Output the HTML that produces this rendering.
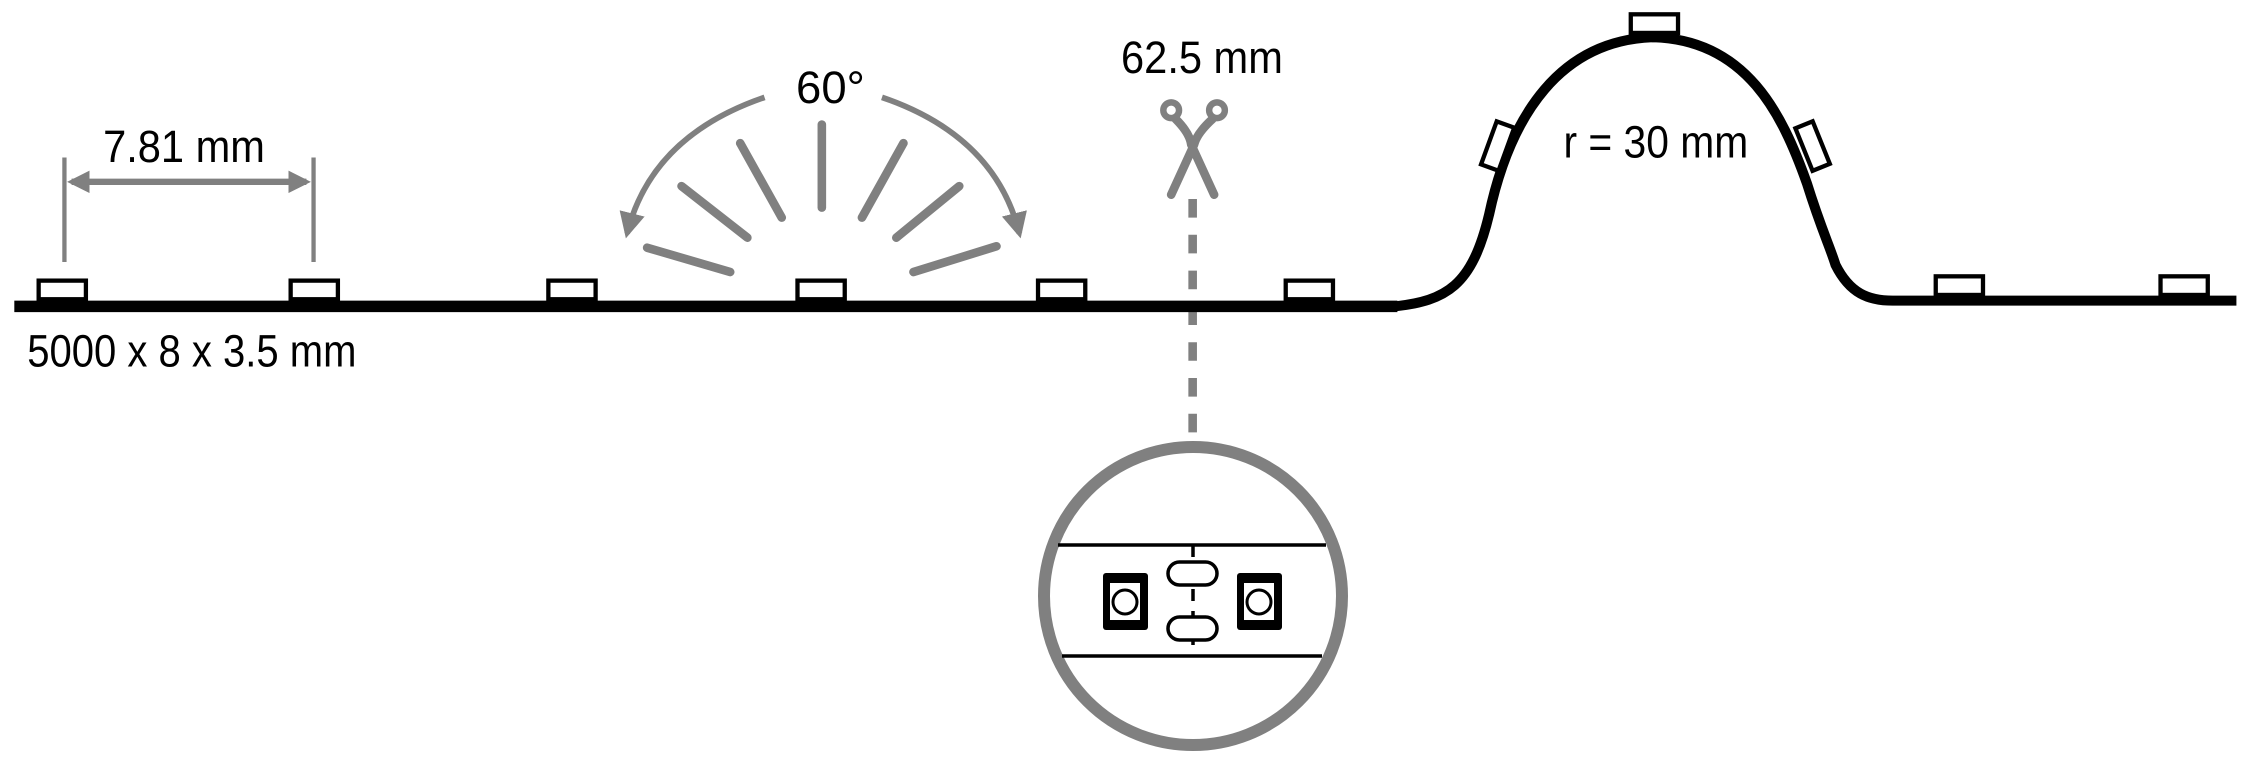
<!DOCTYPE html>
<html><head><meta charset="utf-8"><style>html,body{margin:0;padding:0;background:#fff}svg{display:block}</style></head>
<body>
<svg width="2245" height="765" viewBox="0 0 1568 534.3" preserveAspectRatio="none" xmlns="http://www.w3.org/2000/svg">
<defs>
<marker id="ah" viewBox="0 0 10 10" refX="8" refY="5" markerWidth="3.5" markerHeight="3.5" orient="auto-start-reverse"><path d="M0,0 L10,5 L0,10 z" fill="#808080"/></marker>
<marker id="ah2" viewBox="0 0 10 10" refX="8" refY="5" markerWidth="4.5" markerHeight="4.5" orient="auto-start-reverse"><path d="M0,0 L10,5 L0,10 z" fill="#808080"/></marker>
</defs>
<g font-family="Liberation Sans, sans-serif" fill="#000" font-size="32">
<text x="72" y="113" textLength="113" lengthAdjust="spacingAndGlyphs">7.81 mm</text>
<text x="19" y="256" textLength="230" lengthAdjust="spacingAndGlyphs">5000 x 8 x 3.5 mm</text>
<text x="556" y="72" textLength="48" lengthAdjust="spacingAndGlyphs">60°</text>
<text x="783" y="51" textLength="113" lengthAdjust="spacingAndGlyphs">62.5 mm</text>
<text x="1092" y="110" textLength="129" lengthAdjust="spacingAndGlyphs">r = 30 mm</text>
</g>
<g stroke="#808080" fill="none">
<line x1="45" y1="110" x2="45" y2="183" stroke-width="3"/>
<line x1="219" y1="110" x2="219" y2="183" stroke-width="3"/>
<line x1="50" y1="127" x2="214" y2="127" stroke-width="4.5" marker-start="url(#ah)" marker-end="url(#ah)"/>
<g stroke-width="6" stroke-linecap="round">
<line x1="574" y1="87" x2="574" y2="145"/>
<line x1="517" y1="100" x2="546" y2="152"/>
<line x1="631" y1="100" x2="602" y2="152"/>
<line x1="476" y1="130" x2="522" y2="166"/>
<line x1="670" y1="130" x2="626" y2="166"/>
<line x1="452" y1="173" x2="510" y2="190"/>
<line x1="696" y1="172" x2="638" y2="190"/>
</g>
<path d="M534,68 Q455,95 438,163" stroke-width="4" marker-end="url(#ah2)"/>
<path d="M616,68 Q695,95 712,163" stroke-width="4" marker-end="url(#ah2)"/>
<line x1="833" y1="139" x2="833" y2="310" stroke-width="6" stroke-dasharray="13,12"/>
</g>
<g stroke="#808080" fill="none" stroke-linecap="round">
<circle cx="818" cy="77" r="5.5" stroke-width="4.5"/>
<circle cx="850" cy="77" r="5.5" stroke-width="4.5"/>
<path d="M821,83 Q831,93 832,101 L848,136" stroke-width="6"/>
<path d="M847,83 Q836,93 834,101 L818,136" stroke-width="6"/>
</g>
<g fill="none" stroke="#000">
<line x1="10" y1="214" x2="976" y2="214" stroke-width="8"/>
<path d="M974,214 C1010,210 1028,200 1040,150 C1055,80 1090,28 1155,26 C1220,28 1245,80 1262,128 C1272,160 1278,172 1282,185 C1292,205 1305,210 1322,210 L1562,210" stroke-width="7"/>
<g stroke-width="3" fill="#fff">
<rect x="27" y="196" width="33" height="13"/>
<rect x="203" y="196" width="33" height="13"/>
<rect x="383" y="196" width="33" height="13"/>
<rect x="557" y="196" width="33" height="13"/>
<rect x="725" y="196" width="33" height="13"/>
<rect x="898" y="196" width="33" height="13"/>
<rect x="1352" y="193" width="33" height="13"/>
<rect x="1509" y="193" width="33" height="13"/>
<rect x="1139" y="10" width="33" height="13"/>
<rect x="-6.5" y="-16" width="13" height="32" transform="translate(1046,102) rotate(20)"/>
<rect x="-6.5" y="-16" width="13" height="32" transform="translate(1266,102) rotate(-22)"/>
</g>
</g>
<g transform="scale(0.69844)">
<circle cx="1193" cy="596" r="149" fill="#fff" stroke="#808080" stroke-width="12"/>
<g stroke="#000" stroke-width="3.5" fill="none">
<line x1="1058" y1="545" x2="1326" y2="545"/>
<line x1="1062" y1="656" x2="1322" y2="656"/>
<line x1="1193" y1="545" x2="1193" y2="656" stroke-dasharray="12,10"/>
<rect x="1168" y="562" width="49" height="23" rx="11.5" fill="#fff"/>
<rect x="1168" y="617" width="49" height="23" rx="11.5" fill="#fff"/>
</g>
<g>
<rect x="1103" y="573" width="45" height="57" rx="3" fill="#000"/>
<rect x="1110" y="583" width="30" height="37" fill="#fff"/>
<circle cx="1125" cy="602" r="12" fill="#fff" stroke="#000" stroke-width="3"/>
<rect x="1237" y="573" width="45" height="57" rx="3" fill="#000"/>
<rect x="1244" y="583" width="30" height="37" fill="#fff"/>
<circle cx="1259" cy="602" r="12" fill="#fff" stroke="#000" stroke-width="3"/>
</g>
</g>
</svg>
</body></html>
